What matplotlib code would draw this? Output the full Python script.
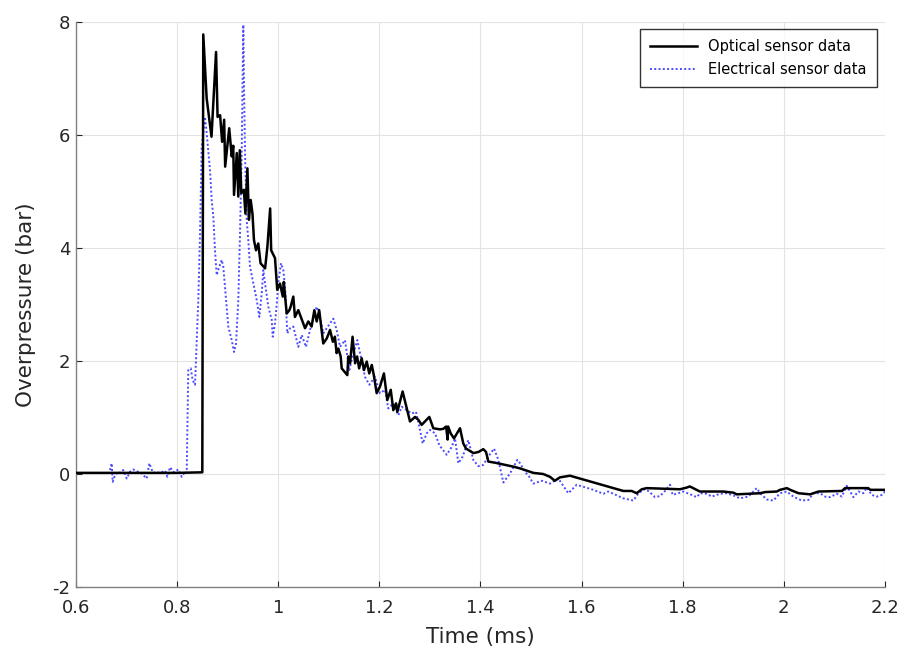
import matplotlib
matplotlib.use("Agg")
import matplotlib.pyplot as plt

# Optical sensor data (time ms, overpressure bar)
opt_t = [0.60, 0.70, 0.80, 0.8498, 0.8517, 0.8584, 0.8637, 0.868, 0.877, 0.880,
         0.885, 0.889, 0.893, 0.895, 0.903, 0.908, 0.911, 0.9125, 0.918, 0.921,
         0.924, 0.927, 0.932, 0.935, 0.939, 0.942, 0.9455, 0.949, 0.952, 0.956,
         0.9605, 0.965, 0.974, 0.9785, 0.984, 0.986, 0.9936, 0.998, 1.0035, 1.009,
         1.011, 1.0167, 1.022, 1.0245, 1.0298, 1.033, 1.0397, 1.053, 1.0595, 1.066,
         1.0714, 1.076, 1.081, 1.089, 1.096, 1.1025, 1.108, 1.112, 1.1155, 1.119,
         1.1235, 1.1255, 1.1366, 1.1386, 1.142, 1.147, 1.152, 1.156, 1.160, 1.165,
         1.1696, 1.175, 1.180, 1.185, 1.189, 1.1947, 1.2013, 1.209, 1.2157, 1.2225,
         1.2276, 1.233, 1.2355, 1.246, 1.2606, 1.2705, 1.277, 1.2837, 1.2988, 1.3067,
         1.32, 1.3265, 1.332, 1.335, 1.336, 1.341, 1.3476, 1.3595, 1.366, 1.3715,
         1.386, 1.396, 1.4056, 1.411, 1.4155, 1.4287, 1.465, 1.478, 1.498, 1.5045,
         1.524, 1.5375, 1.547, 1.557, 1.577, 1.6825, 1.699, 1.709, 1.719, 1.7287,
         1.7946, 1.808, 1.814, 1.834, 1.88, 1.90, 1.907, 1.953, 1.963, 1.986,
         1.9925, 2.006, 2.0125, 2.029, 2.052, 2.0685, 2.115, 2.121, 2.167, 2.171,
         2.197, 2.20]
opt_p = [0.02, 0.02, 0.02, 0.03, 7.78, 6.65, 6.27, 5.97, 7.47, 6.32,
         6.35, 5.88, 6.27, 5.44, 6.12, 5.62, 5.81, 4.94, 5.68, 4.91,
         5.73, 4.97, 5.03, 4.61, 5.41, 4.50, 4.85, 4.61, 4.14, 3.96,
         4.08, 3.73, 3.64, 4.02, 4.70, 3.96, 3.82, 3.26, 3.37, 3.14,
         3.40, 2.84, 2.90, 2.96, 3.14, 2.78, 2.90, 2.58, 2.70, 2.61,
         2.90, 2.70, 2.90, 2.31, 2.40, 2.55, 2.34, 2.43, 2.14, 2.22,
         2.08, 1.87, 1.75, 2.08, 1.96, 2.43, 1.96, 2.08, 1.87, 2.05,
         1.84, 1.99, 1.78, 1.93, 1.75, 1.43, 1.55, 1.78, 1.31, 1.49,
         1.13, 1.25, 1.10, 1.46, 0.93, 1.01, 0.96, 0.87, 1.01, 0.81,
         0.79, 0.80, 0.84, 0.61, 0.84, 0.72, 0.63, 0.81, 0.54, 0.45,
         0.37, 0.39, 0.44, 0.39, 0.22, 0.20, 0.13, 0.10, 0.04, 0.02,
         0.00, -0.05, -0.12, -0.06, -0.03, -0.30, -0.30, -0.34, -0.27, -0.25,
         -0.27, -0.24, -0.22, -0.31, -0.31, -0.33, -0.36, -0.34, -0.32, -0.31,
         -0.28, -0.25, -0.28, -0.34, -0.36, -0.31, -0.30, -0.25, -0.25, -0.28,
         -0.28, -0.28]

# Electrical sensor data
ele_t = [0.6672, 0.6706, 0.6726, 0.6771, 0.6837, 0.6870, 0.6936, 0.7003, 0.7068, 0.7133,
         0.7201, 0.7299, 0.7398, 0.7450, 0.7523, 0.7596, 0.7661, 0.7760, 0.7806, 0.7859,
         0.7938, 0.8023, 0.8091, 0.8156, 0.8190, 0.8201, 0.8221, 0.8269, 0.8308, 0.8354,
         0.8373, 0.8419, 0.8453, 0.8486, 0.8551, 0.8585, 0.8650, 0.8684, 0.8716, 0.8749,
         0.8783, 0.8834, 0.8882, 0.8913, 0.8967, 0.9012, 0.9080, 0.9125, 0.9165, 0.9210,
         0.9244, 0.9277, 0.9309, 0.9323, 0.9343, 0.9376, 0.9408, 0.9441, 0.9507, 0.9574,
         0.9606, 0.9626, 0.9673, 0.9705, 0.9738, 0.9804, 0.9871, 0.9891, 0.9936, 0.9970,
         1.0001, 1.0055, 1.0100, 1.0134, 1.0179, 1.0233, 1.0298, 1.0397, 1.0464, 1.0549,
         1.0628, 1.0761, 1.0812, 1.0891, 1.0958, 1.1089, 1.1156, 1.1222, 1.1320, 1.1406,
         1.1453, 1.1564, 1.1631, 1.1716, 1.1801, 1.1914, 1.2013, 1.2111, 1.2177, 1.2276,
         1.2375, 1.2442, 1.2541, 1.2640, 1.2725, 1.2790, 1.2857, 1.2936, 1.3002, 1.3101,
         1.3186, 1.3332, 1.3431, 1.3496, 1.3562, 1.3649, 1.3759, 1.3858, 1.3957, 1.4056,
         1.4155, 1.4268, 1.4353, 1.4452, 1.4584, 1.4729, 1.4782, 1.4881, 1.4966, 1.5045,
         1.5211, 1.5375, 1.5539, 1.5737, 1.5903, 1.6232, 1.6430, 1.6528, 1.6825, 1.7023,
         1.7102, 1.7221, 1.7320, 1.7453, 1.7551, 1.7650, 1.7750, 1.7801, 1.7913, 1.8012,
         1.8178, 1.8277, 1.8343, 1.8475, 1.8574, 1.8738, 1.8870, 1.9034, 1.9133, 1.9297,
         1.9463, 1.9530, 1.9661, 1.9792, 1.9925, 2.0057, 2.0188, 2.0354, 2.0485, 2.0584,
         2.0717, 2.0816, 2.0914, 2.1047, 2.1146, 2.1245, 2.1310, 2.1377, 2.1475, 2.1574,
         2.1641, 2.1740, 2.1839, 2.1938, 2.2000]
ele_p = [0.07, 0.19, -0.14, -0.02, 0.04, 0.02, 0.07, -0.08, 0.04, 0.08,
         0.05, 0.01, -0.08, 0.19, 0.02, 0.03, 0.02, 0.06, -0.05, 0.12,
         0.03, 0.08, -0.05, 0.04, 0.02, 0.72, 1.84, 1.87, 1.66, 1.58,
         2.02, 3.08, 4.26, 5.79, 6.32, 6.03, 5.38, 4.85, 4.55, 3.96,
         3.52, 3.67, 3.79, 3.67, 3.08, 2.61, 2.37, 2.16, 2.31, 3.08,
         4.26, 5.68, 7.95, 6.86, 5.68, 4.50, 4.14, 3.67, 3.38, 3.08,
         2.90, 2.78, 3.20, 3.61, 3.38, 2.96, 2.73, 2.43, 2.67, 3.00,
         3.38, 3.73, 3.61, 3.32, 2.49, 2.58, 2.61, 2.25, 2.46, 2.25,
         2.55, 2.96, 2.84, 2.49, 2.58, 2.75, 2.55, 2.25, 2.37, 1.84,
         2.02, 2.37, 2.08, 1.72, 1.58, 1.72, 1.43, 1.49, 1.16, 1.25,
         1.04, 1.19, 1.13, 1.07, 1.10, 0.84, 0.54, 0.72, 0.78, 0.72,
         0.51, 0.34, 0.48, 0.63, 0.19, 0.31, 0.60, 0.25, 0.14, 0.16,
         0.31, 0.45, 0.25, -0.15, 0.01, 0.25, 0.19, 0.04, -0.05, -0.17,
         -0.12, -0.17, -0.08, -0.34, -0.19, -0.28, -0.35, -0.31, -0.43, -0.47,
         -0.37, -0.27, -0.30, -0.41, -0.39, -0.30, -0.19, -0.37, -0.34, -0.31,
         -0.37, -0.41, -0.34, -0.35, -0.40, -0.35, -0.34, -0.39, -0.43, -0.40,
         -0.25, -0.34, -0.45, -0.47, -0.34, -0.31, -0.40, -0.47, -0.46, -0.34,
         -0.34, -0.40, -0.41, -0.35, -0.40, -0.21, -0.31, -0.41, -0.31, -0.34,
         -0.24, -0.37, -0.40, -0.37, -0.31]

x_ticks = [0.6, 0.8, 1.0, 1.2, 1.4, 1.6, 1.8, 2.0, 2.2]
x_ticklabels = ["0.6", "0.8", "1", "1.2", "1.4", "1.6", "1.8", "2", "2.2"]
y_ticks = [-2, 0, 2, 4, 6, 8]
y_ticklabels = ["-2", "0", "2", "4", "6", "8"]

plt.rcParams['font.family'] = ['DejaVu Sans']

fig = plt.figure(figsize=(9.07, 6.51), dpi=100)
ax = fig.add_axes([0.0838, 0.0983, 0.8919, 0.8679])

ax.plot(opt_t, opt_p, color='black', lw=1.8, label='Optical sensor data', zorder=3)
ax.plot(ele_t, ele_p, color='#4a4aff', lw=1.4, ls=(0, (1, 1.2)),
        label='Electrical sensor data', zorder=2)

ax.set_xlim(0.6, 2.2)
ax.set_ylim(-2, 8)
ax.set_xticks(x_ticks)
ax.set_xticklabels(x_ticklabels)
ax.set_yticks(y_ticks)
ax.set_yticklabels(y_ticklabels)

ax.grid(True, color='#e3e3e3', lw=0.8)
ax.set_axisbelow(True)
for s in ['top', 'right']:
    ax.spines[s].set_visible(False)
for s in ['left', 'bottom']:
    ax.spines[s].set_color('#808080')
    ax.spines[s].set_linewidth(1.0)
ax.tick_params(direction='in', length=4, width=0.8, color='#262626', labelcolor='#262626',
               labelsize=13)
ax.tick_params(axis='x', pad=8.5)
ax.tick_params(axis='y', pad=4)

ax.set_xlabel('Time (ms)', fontsize=15.5, color='#262626', labelpad=7)
ax.set_ylabel('Overpressure (bar)', fontsize=15.5, color='#262626', labelpad=12)

leg = ax.legend(loc='upper right', bbox_to_anchor=(0.9901, 0.9876), borderaxespad=0,
                fontsize=10.5, frameon=True, fancybox=False, edgecolor='black',
                handlelength=3.2, handletextpad=0.8, borderpad=0.7, labelspacing=0.55)
leg.get_frame().set_linewidth(1.0)

fig.savefig('out.png', dpi=100)
